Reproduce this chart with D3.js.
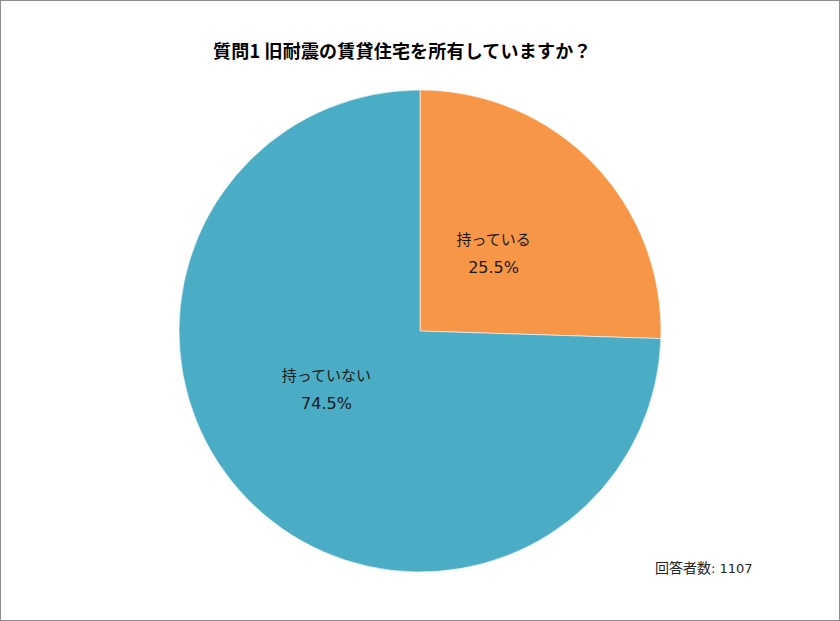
<!DOCTYPE html>
<html>
<head>
<meta charset="utf-8">
<script src="https://cdn.jsdelivr.net/npm/d3@7"></script>
<style>
  html, body { margin: 0; padding: 0; background: #fff; }
  svg { display: block; }
</style>
</head>
<body>
<div id="chart"></div>
<script>
// données du graphique
const categories = ["持っている", "持っていない"];
const values = [25.5, 74.5];
const colors = ["#F79646", "#4BACC6"];
const title = "質問1 旧耐震の賃貸住宅を所有していますか？";
const note = "回答者数: 1107";

function pieChart(htmlIdorClass) {
    const width = 840;
    const height = 621;
    const cx = 420;
    const cy = 331;
    const radius = 241;
    const labelRadius = 108;
    const font = "'Noto Sans CJK JP', 'Noto Sans', sans-serif";
    // chiffres plus larges, comme Meiryo
    const latinFont = "'DejaVu Sans', 'Noto Sans CJK JP', sans-serif";

    // petit décalage façon Excel pour les étiquettes
    const labelNudge = [[-4, -4], [-16, -18]];

    const svg = d3.select(htmlIdorClass).append("svg")
        .attr("width", width)
        .attr("height", height)
        .attr("viewBox", [0, 0, width, height]);

    // cadre gris
    svg.append("rect")
        .attr("x", 0.5)
        .attr("y", 0.5)
        .attr("width", width - 1)
        .attr("height", height - 1)
        .attr("fill", "#fff")
        .attr("stroke", "#8c8c8c")
        .attr("stroke-width", 1);

    const color = d3.scaleOrdinal()
        .domain(categories)
        .range(colors);

    const pie = d3.pie()
        .sort(null)
        .value(d => d.value);

    const data = categories.map((c, i) => ({ name: c, value: values[i] }));
    const arcs = pie(data);

    const arc = d3.arc().innerRadius(0).outerRadius(radius);
    const labelArc = d3.arc().innerRadius(labelRadius).outerRadius(labelRadius);

    const g = svg.append("g")
        .attr("transform", `translate(${cx},${cy})`);

    g.selectAll("path")
        .data(arcs)
        .join("path")
        .attr("d", arc)
        .attr("fill", d => color(d.data.name))
        .attr("stroke", "#fff")
        .attr("stroke-width", 0.6);

    // étiquettes : nom + pourcentage
    const labels = g.selectAll("text.label")
        .data(arcs)
        .join("text")
        .attr("class", "label")
        .attr("transform", (d, i) => {
            const [x, y] = labelArc.centroid(d);
            return `translate(${x + labelNudge[i][0]},${y + labelNudge[i][1]})`;
        })
        .attr("text-anchor", "middle")
        .attr("fill", "#1a1a1a");

    labels.append("tspan")
        .attr("x", 0)
        .attr("y", -7)
        .style("font", `15px ${font}`)
        .text(d => d.data.name);

    labels.append("tspan")
        .attr("x", 0)
        .attr("y", 21)
        .style("font", `16px ${latinFont}`)
        .text(d => d3.format(".1f")(d.data.value) + "%");

    // titre
    svg.append("text")
        .attr("x", 213)
        .attr("y", 58)
        .attr("fill", "#000")
        .style("font-family", font)
        .style("font-size", "18px")
        .style("font-weight", "bold")
        .style("letter-spacing", "0.2px")
        .text(title);

    // nombre de répondants
    svg.append("text")
        .attr("x", 655)
        .attr("y", 573)
        .attr("fill", "#262626")
        .style("font", `14px ${font}`)
        .call(t => {
            const [label, num] = note.split(":");
            t.append("tspan").text(label);
            t.append("tspan").style("font-family", latinFont).style("font-size", "13px").text(":" + num);
        });
}

pieChart("#chart");
</script>
</body>
</html>
